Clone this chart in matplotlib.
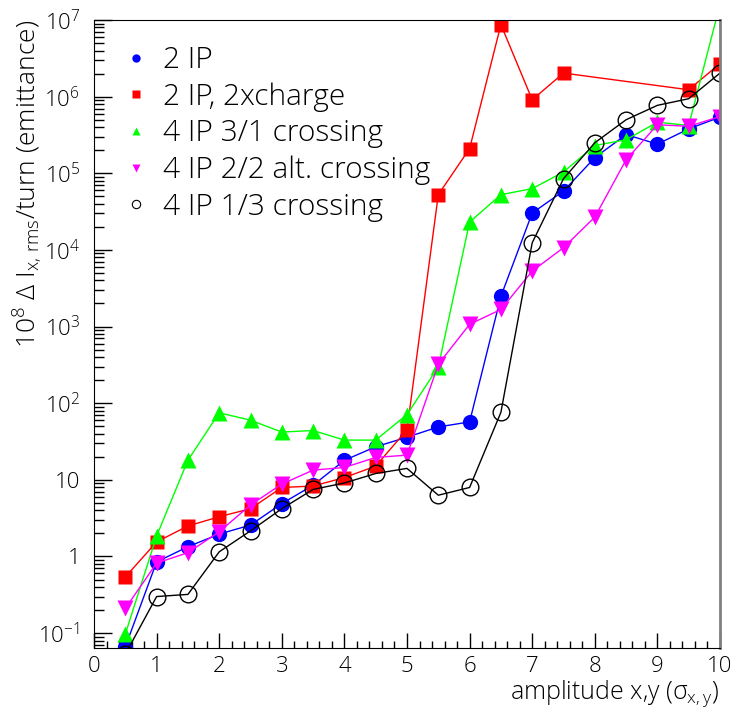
import numpy as np
import matplotlib
matplotlib.use("Agg")
import matplotlib.pyplot as plt
from matplotlib.lines import Line2D
from matplotlib.ticker import FixedLocator, FixedFormatter, LogLocator, NullFormatter, MultipleLocator

# thin sans to mimic the ROOT look
plt.rcParams['font.family'] = ['Open Sans', 'DejaVu Sans']
plt.rcParams['font.weight'] = 'light'
plt.rcParams['axes.labelweight'] = 'light'
plt.rcParams['mathtext.fontset'] = 'custom'
plt.rcParams['mathtext.rm'] = 'Open Sans:light'
plt.rcParams['mathtext.it'] = 'Open Sans:light'
plt.rcParams['mathtext.sf'] = 'Open Sans:light'

# amplitudes (sigma)
amp = [0.5, 1.0, 1.5, 2.0, 2.5, 3.0, 3.5, 4.0, 4.5, 5.0,
       5.5, 6.0, 6.5, 7.0, 7.5, 8.0, 8.5, 9.0, 9.5, 10.0]

ip2 = [0.066, 0.85, 1.34, 1.96, 2.57, 4.9, 8.5, 18, 27, 36,
       49, 57, 2480, 30300, 58600, 1.6e5, 3.2e5, 2.4e5, 3.8e5, 5.4e5]

# 2xcharge has no points at 8, 8.5 and 9
amp_2q = [0.5, 1.0, 1.5, 2.0, 2.5, 3.0, 3.5, 4.0, 4.5, 5.0,
          5.5, 6.0, 6.5, 7.0, 7.5, 9.5, 10.0]
ip2_2q = [0.54, 1.55, 2.5, 3.3, 4.2, 7.95, 8.3, 10.7, 15.1, 45,
          52600, 2.1e5, 8.7e6, 9.1e5, 2.03e6, 1.23e6, 2.7e6]

ip4_31 = [0.097, 1.85, 18, 75, 60, 42, 44, 33, 33, 71,
          297, 23100, 52600, 63000, 1.04e5, 2.3e5, 2.74e5, 4.65e5, 4.2e5, 1.6e7]

ip4_22 = [0.21, 0.82, 1.12, 2.1, 4.7, 8.8, 13.4, 14.5, 19.6, 21,
          322, 1070, 1670, 5300, 10700, 26800, 1.5e5, 4.3e5, 4.1e5, 5.5e5]

ip4_13 = [0.053, 0.30, 0.32, 1.15, 2.16, 4.2, 7.5, 9.1, 12.1, 14.1,
          6.3, 7.95, 76, 12400, 85000, 2.5e5, 5e5, 7.7e5, 9.4e5, 2.03e6]

labels = ["2 IP", "2 IP, 2xcharge", "4 IP 3/1 crossing",
          "4 IP 2/2 alt. crossing", "4 IP 1/3 crossing"]

fig = plt.figure(figsize=(7.3, 7.07), dpi=100)
ax = fig.add_axes([0.1288, 0.0835, 0.8575, 0.8882])

ax.plot(amp, ip2, color='#0000ff', lw=1, marker='o', ms=11, mec='none')
ax.plot(amp_2q, ip2_2q, color='#ff0000', lw=1, marker='s', ms=10.5, mec='none')
ax.plot(amp, ip4_31, color='#00ff00', lw=1, marker='^', ms=11.5, mec='none')
ax.plot(amp, ip4_22, color='#ff00ff', lw=1, marker='v', ms=11.5, mec='none')
ax.plot(amp, ip4_13, color='black', lw=1, marker='o', ms=12, mfc='none', mew=1)

ax.set_yscale('log')
ax.set_xlim(0, 10)
ax.set_ylim(0.064, 1e7)

# y ticks, ROOT style
yt = [1e-1, 1, 10, 1e2, 1e3, 1e4, 1e5, 1e6, 1e7]
ytl = [r'$10^{-1}$', '1', '10', r'$10^{2}$', r'$10^{3}$', r'$10^{4}$',
       r'$10^{5}$', r'$10^{6}$', r'$10^{7}$']
ax.yaxis.set_major_locator(FixedLocator(yt))
ax.yaxis.set_major_formatter(FixedFormatter(ytl))
ax.yaxis.set_minor_locator(LogLocator(base=10, subs=np.arange(2, 10), numticks=20))
ax.yaxis.set_minor_formatter(NullFormatter())

ax.xaxis.set_major_locator(MultipleLocator(1))
ax.xaxis.set_minor_locator(MultipleLocator(0.2))

ax.tick_params(axis='both', which='both', direction='in', top=False, right=False)
ax.tick_params(axis='y', which='major', length=13, width=1, labelsize=16, pad=10)
ax.tick_params(axis='y', which='minor', length=7, width=1)
ax.tick_params(axis='x', which='major', length=11, width=1, labelsize=16, pad=6)
ax.tick_params(axis='x', which='minor', length=5, width=1)

ax.spines['right'].set_color('#808080')
ax.spines['right'].set_linewidth(2)

ax.set_xlabel(r'amplitude x,y ($\sigma_{\rm x,y}$)', fontsize=18, loc='right')
ax.xaxis.set_label_coords(0.998, -0.048)
ax.set_ylabel(r'$10^{8}$ $\Delta$ I$_{\rm x,\,rms}$/turn (emittance)', fontsize=19,
              loc='top')
ax.yaxis.set_label_coords(-0.079, 1.0)

handles = [
    Line2D([], [], ls='none', marker='o', color='#0000ff', ms=6, mec='none'),
    Line2D([], [], ls='none', marker='s', color='#ff0000', ms=6, mec='none'),
    Line2D([], [], ls='none', marker='^', color='#00ff00', ms=6, mec='none'),
    Line2D([], [], ls='none', marker='v', color='#ff00ff', ms=6, mec='none'),
    Line2D([], [], ls='none', marker='o', color='black', ms=6, mfc='none', mew=0.8),
]
ax.legend(handles, labels, loc='upper left', bbox_to_anchor=(0.02, 0.988),
          frameon=False, fontsize=21.5, handlelength=0.8, handletextpad=0.5,
          labelspacing=0.24, borderaxespad=0.2)

plt.savefig("out.png", dpi=100)
